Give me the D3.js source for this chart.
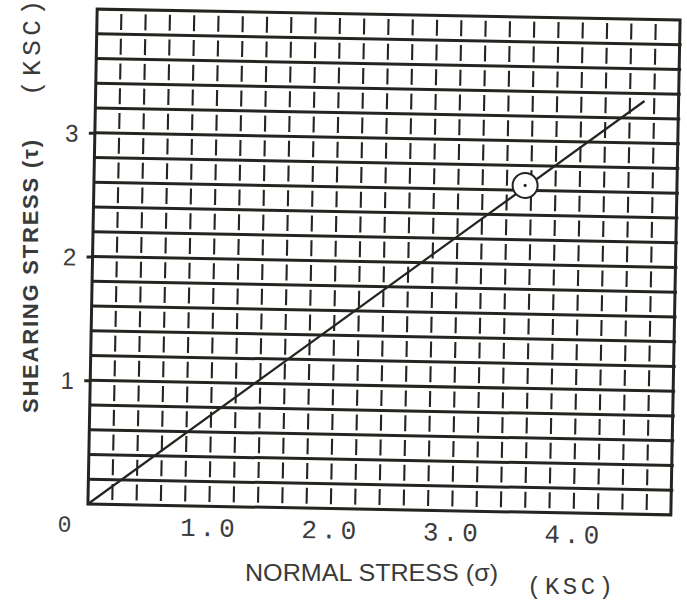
<!DOCTYPE html>
<html>
<head>
<meta charset="utf-8">
<script src="https://cdn.jsdelivr.net/npm/d3@7"></script>
<style>
  html, body { margin: 0; padding: 0; background: #fff; }
  svg { display: block; }
</style>
</head>
<body>
<svg id="chart" width="687" height="602"></svg>
<script>
// Mohr-Coulomb failure envelope on graph paper
const sigmaDomain = [0, 4.8];          // normal stress range (KSC)
const tauDomain = [0, 4.0];            // shearing stress range (KSC)
const gridStep = 0.2;

const xTicks = [1, 2, 3, 4];
const xTickLabels = ["1.0", "2.0", "3.0", "4.0"];
const yTicks = [1, 2, 3];
const yTickLabels = ["1", "2", "3"];

// failure envelope (straight line through the origin)
const envelopeSigma = [0, 4.52];
const envelopeTau = [0, 3.34];

// circled test point
const pointSigma = [3.55];
const pointTau = [2.64];

const ink = "#262420";

const svg = d3.select("#chart");
svg.append("rect").attr("width", 687).attr("height", 602).attr("fill", "#fff");

const x = d3.scaleLinear().domain(sigmaDomain).range([92.5, 675.5]);
const y = d3.scaleLinear().domain(tauDomain).range([509.5, 14.5]);

// the sheet sits slightly skewed
const plot = svg.append("g").attr("transform", "rotate(1.07, 384, 262)");

const nx = Math.round((sigmaDomain[1] - sigmaDomain[0]) / gridStep);
const ny = Math.round((tauDomain[1] - tauDomain[0]) / gridStep);
const vLines = d3.range(1, nx).map(i => i * gridStep);
const hLines = d3.range(1, ny).map(i => i * gridStep);

const cell = Math.abs(y(0) - y(gridStep));
const dash = 16, gap = cell - dash;

// vertical rulings: short broken strokes
plot.append("g").selectAll("line").data(vLines).join("line")
  .attr("x1", d => x(d)).attr("x2", d => x(d))
  .attr("y1", y(tauDomain[1])).attr("y2", y(0))
  .attr("stroke", ink).attr("stroke-width", 2.1)
  .attr("stroke-dasharray", `${dash} ${gap}`)
  .attr("stroke-dashoffset", dash + gap / 2);

// horizontal rulings: heavy continuous lines
plot.append("g").selectAll("line").data(hLines).join("line")
  .attr("x1", x(0)).attr("x2", x(sigmaDomain[1]) + 2)
  .attr("y1", d => y(d)).attr("y2", d => y(d))
  .attr("stroke", ink).attr("stroke-width", 3);

// frame
plot.append("rect")
  .attr("x", x(0)).attr("y", y(tauDomain[1]))
  .attr("width", x(sigmaDomain[1]) - x(0))
  .attr("height", y(0) - y(tauDomain[1]))
  .attr("fill", "none").attr("stroke", ink).attr("stroke-width", 3);

// y axis: tick stubs and labels
const yAxis = plot.append("g")
  .attr("transform", `translate(${x(0)},0)`)
  .call(d3.axisLeft(y).tickValues(yTicks)
    .tickFormat((d, i) => yTickLabels[i]).tickSize(6).tickPadding(10));
yAxis.select(".domain").remove();
yAxis.selectAll(".tick line").attr("stroke", ink).attr("stroke-width", 3);
yAxis.selectAll(".tick text")
  .attr("font-family", "Liberation Sans, Arial, sans-serif")
  .attr("font-size", 24).attr("fill", "#3c3c3c")
  .attr("text-anchor", "middle").attr("x", -23).attr("dy", "0.36em");

// x axis: labels only
const xAxis = plot.append("g")
  .attr("transform", `translate(0,${y(0)})`)
  .call(d3.axisBottom(x).tickValues(xTicks)
    .tickFormat((d, i) => xTickLabels[i]).tickSize(0));
xAxis.select(".domain").remove();
xAxis.selectAll(".tick text")
  .attr("font-family", "Liberation Mono, DejaVu Sans Mono, monospace")
  .attr("font-size", 26).attr("fill", "#3c3c3c")
  .attr("letter-spacing", 4)
  .attr("dy", null).attr("y", 30);

// origin label
plot.append("text")
  .attr("x", x(0) - 23).attr("y", y(0) + 28)
  .attr("text-anchor", "middle")
  .attr("font-family", "Liberation Mono, DejaVu Sans Mono, monospace")
  .attr("font-size", 23).attr("fill", "#3c3c3c")
  .text("0");

// failure envelope
const envelope = envelopeSigma.map((s, i) => [s, envelopeTau[i]]);
plot.append("path")
  .datum(envelope)
  .attr("d", d3.line().x(d => x(d[0])).y(d => y(d[1])))
  .attr("fill", "none").attr("stroke", ink).attr("stroke-width", 2.2);

// circled point
const pts = pointSigma.map((s, i) => [s, pointTau[i]]);
plot.append("g").selectAll("circle").data(pts).join("circle")
  .attr("cx", d => x(d[0])).attr("cy", d => y(d[1])).attr("r", 12.5)
  .attr("fill", "#fff").attr("stroke", ink).attr("stroke-width", 2);
plot.append("g").selectAll("circle").data(pts).join("circle")
  .attr("cx", d => x(d[0])).attr("cy", d => y(d[1])).attr("r", 1.6)
  .attr("fill", ink);

// axis titles
svg.append("text")
  .attr("transform", "translate(38,413) rotate(-90)")
  .attr("font-family", "Liberation Sans Narrow, Liberation Sans, Arial, sans-serif")
  .attr("font-weight", "bold").attr("font-size", 22).attr("fill", "#3a3a3a")
  .attr("textLength", 273).attr("lengthAdjust", "spacing")
  .text("SHEARING STRESS (τ)");

svg.append("text")
  .attr("transform", "translate(40,96) rotate(-90)")
  .attr("font-family", "Liberation Mono, DejaVu Sans Mono, monospace")
  .attr("font-size", 26).attr("fill", "#3a3a3a")
  .attr("textLength", 96).attr("lengthAdjust", "spacing")
  .text("(KSC)");

svg.append("text")
  .attr("x", 245).attr("y", 581)
  .attr("font-family", "Liberation Sans Narrow, Liberation Sans, Arial, sans-serif")
  .attr("font-size", 24).attr("fill", "#3a3a3a")
  .attr("textLength", 253).attr("lengthAdjust", "spacingAndGlyphs")
  .text("NORMAL STRESS (σ)");

svg.append("text")
  .attr("x", 527).attr("y", 594)
  .attr("font-family", "Liberation Mono, DejaVu Sans Mono, monospace")
  .attr("font-size", 24).attr("fill", "#3a3a3a")
  .attr("textLength", 86).attr("lengthAdjust", "spacing")
  .text("(KSC)");
</script>
</body>
</html>
